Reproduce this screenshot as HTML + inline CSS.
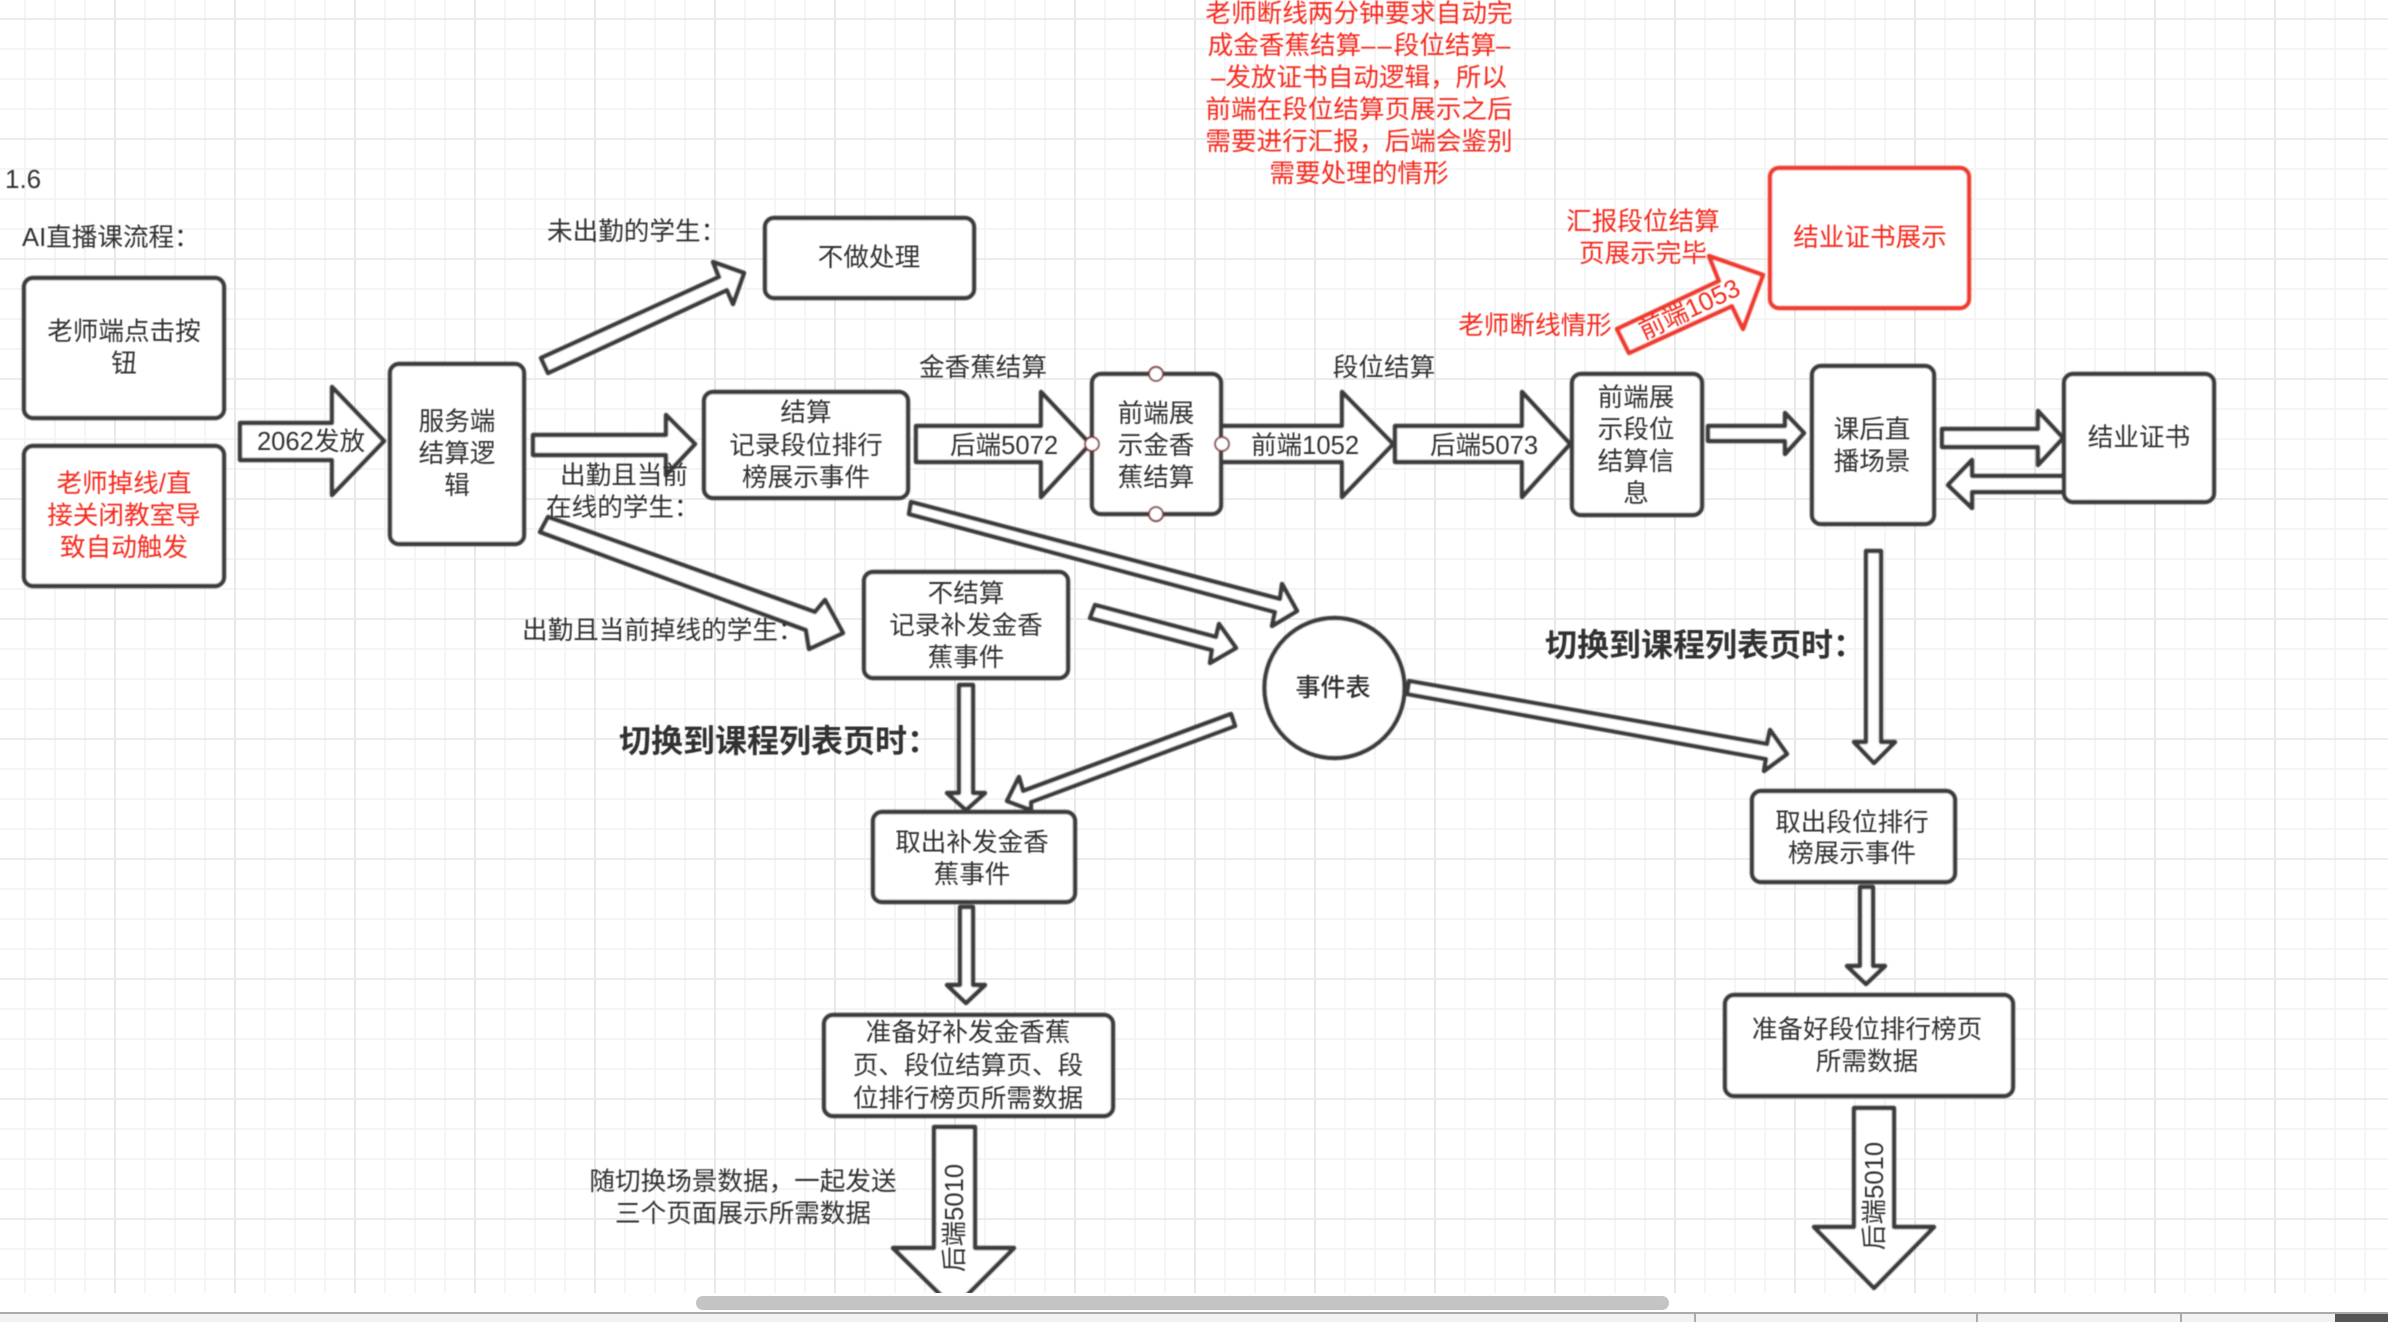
<!DOCTYPE html>
<html>
<head>
<meta charset="utf-8">
<style>
html,body{margin:0;padding:0;background:#fff;width:2388px;height:1322px;overflow:hidden}
svg{position:absolute;left:0;top:0;display:block}
text{font-family:"Liberation Sans","Noto Sans CJK SC",sans-serif;font-size:25.6px;fill:#333;text-anchor:middle}
.l{text-anchor:start}
.r{fill:#f5291f}
.b{font-size:32px;font-weight:700;text-anchor:start}
.s{fill:#fff;stroke:#3a3a3a;stroke-width:4.4;stroke-linejoin:round}
.rs{fill:#fff;stroke:#ef3b2f;stroke-width:4.4;stroke-linejoin:round}
</style>
</head>
<body>
<svg width="2388" height="1322" viewBox="0 0 2388 1322" xmlns="http://www.w3.org/2000/svg">
<defs>
<pattern id="g" patternUnits="userSpaceOnUse" x="114" y="18" width="120" height="120">
<rect x="30" y="0" width="2" height="120" fill="#f5f5f5"/>
<rect x="60" y="0" width="2" height="120" fill="#f5f5f5"/>
<rect x="90" y="0" width="2" height="120" fill="#f5f5f5"/>
<rect x="0" y="30" width="120" height="2" fill="#f5f5f5"/>
<rect x="0" y="60" width="120" height="2" fill="#f5f5f5"/>
<rect x="0" y="90" width="120" height="2" fill="#f5f5f5"/>
<rect x="0" y="0" width="120" height="2" fill="#ececec"/>
<rect x="0" y="0" width="2" height="120" fill="#e8e8e8"/>
</pattern>
<filter id="bl" filterUnits="userSpaceOnUse" x="0" y="0" width="2388" height="1322"><feGaussianBlur stdDeviation="0.7"/></filter>
<filter id="tb" filterUnits="userSpaceOnUse" x="0" y="0" width="2388" height="1322"><feGaussianBlur stdDeviation="0.4"/></filter>
</defs>
<rect width="2388" height="1293" fill="url(#g)"/>
<g filter="url(#bl)">
<!-- arrows -->
<polygon class="s" points="240,423 332,423 332,387 384,441 332,495 332,460 240,460"/>
<polygon class="s" points="541,358 719,277 713,262 744,273 733,304 727,290 548,373"/>
<polygon class="s" points="533,435 666,435 666,415 695,444 666,475 666,455 533,455"/>
<polygon class="s" points="548,517 815,612 825,600 843,633 809,649 806,630 540,532"/>
<polygon class="s" points="911,502 1280,599 1282,584 1297,611 1272,626 1275,612 909,514"/>
<polygon class="s" points="1095,605 1216,637 1219,624 1236,648 1210,663 1212,650 1090,618"/>
<polygon class="s" points="959,685 973,685 973,793 985,793 966,810 947,793 959,793"/>
<polygon class="s" points="1231,714 1235,726 1031,802 1031,810 1007,801 1019,777 1023,791"/>
<polygon class="s" points="960,907 973,907 973,985 985,985 966,1003 947,985 960,985"/>
<polygon class="s" points="934,1127 975,1127 975,1248 1014,1248 954,1308 893,1248 934,1248"/>
<polygon class="s" points="916,426 1041,426 1041,392 1090,444 1041,497 1041,462 916,462"/>
<polygon class="s" points="1216,426 1342,426 1342,392 1393,444 1342,497 1342,462 1216,462"/>
<polygon class="s" points="1395,426 1522,426 1522,392 1570,444 1522,497 1522,462 1395,462"/>
<polygon class="s" points="1708,426 1785,426 1785,413 1804,433 1785,454 1785,441 1708,441"/>
<polygon class="s" points="1942,429 2038,429 2038,411 2063,438 2038,465 2038,447 1942,447"/>
<polygon class="s" points="2064,476 1972,476 1972,460 1948,485 1972,508 1972,492 2064,492"/>
<polygon class="s" points="1866,551 1881,551 1881,742 1895,742 1874,763 1854,742 1866,742"/>
<polygon class="s" points="1409,681 1767,744 1770,730 1787,754 1764,771 1766,759 1407,694"/>
<polygon class="s" points="1860,887 1873,887 1873,966 1885,966 1866,984 1847,966 1860,966"/>
<polygon class="s" points="1854,1108 1894,1108 1894,1227 1934,1227 1874,1288 1814,1227 1854,1227"/>
<polygon class="rs" points="1617,329 1719,281 1709,256 1763,275 1743,329 1732,306 1629,353"/>

<!-- boxes -->
<rect class="s" x="24" y="278" width="200" height="140" rx="9"/>
<rect class="s" x="24" y="446" width="200" height="140" rx="9"/>
<rect class="s" x="390" y="364" width="134" height="180" rx="9"/>
<rect class="s" x="765" y="218" width="209" height="80" rx="9"/>
<rect class="s" x="704" y="392" width="204" height="106" rx="9"/>
<rect class="s" x="1092" y="374" width="129" height="140" rx="9"/>
<rect class="s" x="1572" y="374" width="130" height="141" rx="9"/>
<rect class="s" x="1812" y="366" width="122" height="158" rx="9"/>
<rect class="s" x="2064" y="374" width="150" height="128" rx="9"/>
<rect class="rs" x="1770" y="168" width="199" height="140" rx="9"/>
<rect class="s" x="864" y="572" width="204" height="106" rx="9"/>
<rect class="s" x="873" y="812" width="202" height="90" rx="9"/>
<rect class="s" x="824" y="1015" width="289" height="101" rx="9"/>
<rect class="s" x="1752" y="791" width="203" height="91" rx="9"/>
<rect class="s" x="1725" y="995" width="288" height="101" rx="9"/>
<circle class="s" cx="1334.5" cy="688" r="70"/>

<!-- connection points -->
<g fill="#fff" stroke="#7a2b2b" stroke-width="2">
<circle cx="1156" cy="374" r="7"/>
<circle cx="1156" cy="514" r="7"/>
<circle cx="1092" cy="444" r="7"/>
<circle cx="1222" cy="444" r="7"/>
</g>
</g>
<rect x="880" y="1293" width="150" height="20" fill="#fff"/>

<!-- labels -->
<g filter="url(#tb)">
<text class="l" x="5" y="188" style="font-size:26px">1.6</text>
<text class="l" x="22" y="246">AI直播课流程：</text>
<text class="l" x="547" y="240">未出勤的学生：</text>
<text x="124" y="340">老师端点击按</text>
<text x="124" y="372">钮</text>
<text class="r" x="124" y="492">老师掉线/直</text>
<text class="r" x="124" y="524">接关闭教室导</text>
<text class="r" x="124" y="556">致自动触发</text>
<text x="311" y="450">2062发放</text>
<text x="457" y="430">服务端</text>
<text x="457" y="462">结算逻</text>
<text x="457" y="494">辑</text>
<text x="624" y="484">出勤且当前</text>
<text class="l" x="546" y="516">在线的学生：</text>
<text x="869" y="266">不做处理</text>
<text x="806" y="421">结算</text>
<text x="806" y="454">记录段位排行</text>
<text x="806" y="486">榜展示事件</text>

<text class="r" x="1359" y="22">老师断线两分钟要求自动完</text>
<text class="r" x="1359" y="54">成金香蕉结算<tspan style="letter-spacing:2px">––</tspan>段位结算–</text>
<text class="r" x="1359" y="86">–发放证书自动逻辑，所以</text>
<text class="r" x="1359" y="118">前端在段位结算页展示之后</text>
<text class="r" x="1359" y="150">需要进行汇报，后端会鉴别</text>
<text class="r" x="1359" y="182">需要处理的情形</text>

<text x="983" y="376">金香蕉结算</text>
<text x="1384" y="376">段位结算</text>
<text x="1004" y="454">后端5072</text>
<text x="1305" y="454">前端1052</text>
<text x="1484" y="454">后端5073</text>
<text x="1156" y="422">前端展</text>
<text x="1156" y="454">示金香</text>
<text x="1156" y="486">蕉结算</text>
<text x="1636" y="406">前端展</text>
<text x="1636" y="438">示段位</text>
<text x="1636" y="470">结算信</text>
<text x="1636" y="502">息</text>
<text x="1872" y="438">课后直</text>
<text x="1872" y="470">播场景</text>
<text x="2139" y="446">结业证书</text>
<text class="r" x="1870" y="246">结业证书展示</text>
<text class="r" x="1643" y="230">汇报段位结算</text>
<text class="r" x="1643" y="262">页展示完毕</text>
<text class="r" x="1535" y="334">老师断线情形</text>
<text class="r" transform="translate(1693,317) rotate(-25)" x="0" y="0">前端1053</text>

<text x="966" y="602">不结算</text>
<text x="966" y="634">记录补发金香</text>
<text x="966" y="666">蕉事件</text>
<text class="l" x="522" y="639">出勤且当前掉线的学生：</text>
<text x="1333" y="696" style="font-weight:500;font-size:25px">事件表</text>
<text class="b" x="619" y="752">切换到课程列表页时：</text>
<text class="b" x="1545" y="656">切换到课程列表页时：</text>
<text x="972" y="851">取出补发金香</text>
<text x="972" y="883">蕉事件</text>
<text x="968" y="1041">准备好补发金香蕉</text>
<text x="968" y="1074">页、段位结算页、段</text>
<text x="968" y="1107">位排行榜页所需数据</text>
<text x="743" y="1190">随切换场景数据，一起发送</text>
<text x="743" y="1222">三个页面展示所需数据</text>
<text transform="translate(963,1218) rotate(-90)" x="0" y="0">后端5010</text>
<text x="1852" y="831">取出段位排行</text>
<text x="1852" y="862">榜展示事件</text>
<text x="1867" y="1038">准备好段位排行榜页</text>
<text x="1867" y="1070">所需数据</text>
<text transform="translate(1883,1196) rotate(-90)" x="0" y="0">后端5010</text>
</g>

<!-- window chrome -->
<rect x="696" y="1296" width="973" height="14" rx="7" fill="#c4c4c4"/>
<rect x="0" y="1314" width="2388" height="8" fill="#f2f2f2"/>
<rect x="0" y="1312" width="2388" height="2" fill="#aaaaaa"/>
<rect x="1694" y="1314" width="2" height="8" fill="#aaaaaa"/>
<rect x="1976" y="1314" width="2" height="8" fill="#aaaaaa"/>
<rect x="2180" y="1314" width="2" height="8" fill="#aaaaaa"/>
<rect x="2335" y="1314" width="53" height="8" fill="#555555"/>
</svg>
</body>
</html>
